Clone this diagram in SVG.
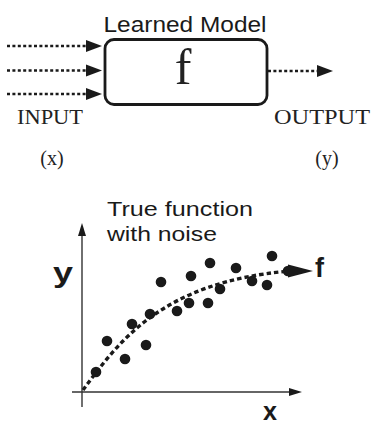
<svg xmlns="http://www.w3.org/2000/svg" width="372" height="424" viewBox="0 0 372 424">
<style>
.dot{stroke:#1a1a1a;stroke-width:2.6;stroke-dasharray:3 2.4;fill:none}
.ah{fill:#1a1a1a}
.serif{font-family:"Liberation Serif","Times New Roman",serif;fill:#222}
.sans{font-family:"Liberation Sans",Arial,sans-serif;fill:#1a1a1a}
.bold{font-family:"Liberation Sans",Arial,sans-serif;font-weight:bold;fill:#1a1a1a}
.axis{stroke:#333;stroke-width:1.4;fill:none}
.pt{fill:#1a1a1a}
.curve{stroke:#1a1a1a;stroke-width:3.4;stroke-dasharray:4.5 3;fill:none}
</style>
<rect width="372" height="424" fill="#fff"/>
<g id="model">
<rect x="105" y="39.5" width="162" height="65" rx="9" fill="#fff" stroke="#1a1a1a" stroke-width="2.8"/>
<text class="sans" x="185" y="32" font-size="22" text-anchor="middle" textLength="163" lengthAdjust="spacingAndGlyphs">Learned Model</text>
<text class="serif" x="183" y="84" font-size="50" text-anchor="middle">f</text>
</g>
<g id="input">
<text class="serif" x="17" y="124" font-size="20" textLength="66" lengthAdjust="spacingAndGlyphs">INPUT</text>
<text class="serif" x="52" y="165" font-size="20" text-anchor="middle">(x)</text>
</g>
<g id="output">
<text class="serif" x="274" y="124" font-size="20" textLength="96" lengthAdjust="spacingAndGlyphs">OUTPUT</text>
<text class="serif" x="327" y="165" font-size="20" text-anchor="middle">(y)</text>
</g>
<g id="connectors">
<line class="dot" x1="7" y1="46" x2="87" y2="46"/>
<polygon class="ah" points="86,40 102,46 86,52"/>
<line class="dot" x1="7" y1="70.5" x2="87" y2="70.5"/>
<polygon class="ah" points="86,64.5 102,70.5 86,76.5"/>
<line class="dot" x1="7" y1="94" x2="87" y2="94"/>
<polygon class="ah" points="86,88 102,94 86,100"/>
<line class="dot" x1="268" y1="71" x2="318" y2="71"/>
<polygon class="ah" points="317,65 333,71 317,77"/>
</g>
<g id="plot">
<line class="axis" x1="82" y1="235" x2="82" y2="407"/>
<polygon class="ah" points="82,223 86,236 78,236"/>
<line class="axis" x1="72" y1="392" x2="292" y2="392"/>
<polygon class="ah" points="302,392 289,388 289,396"/>
<text class="sans" x="107" y="216" font-size="21" textLength="146" lengthAdjust="spacingAndGlyphs">True function</text>
<text class="sans" x="107" y="241" font-size="21" textLength="110" lengthAdjust="spacingAndGlyphs">with noise</text>
<text class="bold" x="53" y="282" font-size="27" textLength="20" lengthAdjust="spacingAndGlyphs">y</text>
<text class="bold" x="263" y="420" font-size="25" textLength="14" lengthAdjust="spacingAndGlyphs">x</text>
<text class="bold" x="315" y="277" font-size="27">f</text>
<g id="points">
<circle class="pt" cx="96" cy="372" r="5.3"/>
<circle class="pt" cx="107" cy="341" r="5.3"/>
<circle class="pt" cx="125" cy="359" r="5.3"/>
<circle class="pt" cx="132" cy="324" r="5.3"/>
<circle class="pt" cx="146" cy="345" r="5.3"/>
<circle class="pt" cx="150" cy="314" r="5.3"/>
<circle class="pt" cx="161" cy="282" r="5.3"/>
<circle class="pt" cx="177" cy="311" r="5.3"/>
<circle class="pt" cx="189" cy="303" r="5.3"/>
<circle class="pt" cx="191" cy="276" r="5.3"/>
<circle class="pt" cx="208" cy="303" r="5.3"/>
<circle class="pt" cx="210" cy="263" r="5.3"/>
<circle class="pt" cx="220" cy="289" r="5.3"/>
<circle class="pt" cx="236" cy="268" r="5.3"/>
<circle class="pt" cx="252" cy="281" r="5.3"/>
<circle class="pt" cx="267" cy="285" r="5.3"/>
<circle class="pt" cx="272" cy="256" r="5.3"/>
<circle class="pt" cx="288" cy="271" r="5.3"/>
</g>
<path class="curve" d="M83,390 C118,343 160,282 290,271"/>
<polygon class="ah" points="288,264.5 313,271 288,277.5"/>
</g>
</svg>
